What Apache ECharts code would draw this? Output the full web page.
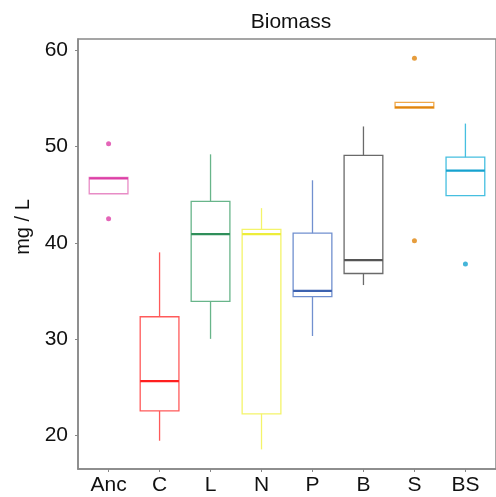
<!DOCTYPE html>
<html lang="en">
<head>
    <meta charset="UTF-8">
    <script src="https://cdn.jsdelivr.net/npm/echarts@6/dist/echarts.min.js"></script>
    <title>Biomass</title>
    <style>
        html, body { margin: 0; padding: 0; background: #fff; }
        #main { width: 496px; height: 497px; }
    </style>
</head>
<body>
    <div id="main"></div>
    <script>
        var categories = ['Anc', 'C', 'L', 'N', 'P', 'B', 'S', 'BS'];
        var lower  = [45.1, 19.4, 30.0, 18.5, 30.3, 35.6, 54.0, 44.9];
        var q1     = [45.1, 22.5, 33.9, 22.2, 34.4, 36.8, 54.0, 44.9];
        var median = [46.7, 25.6, 40.9, 40.9, 35.0, 38.2, 54.1, 47.5];
        var q3     = [46.8, 32.3, 44.3, 41.4, 41.0, 49.1, 54.6, 48.9];
        var upper  = [46.8, 39.0, 49.2, 43.6, 46.5, 52.1, 54.6, 52.4];
        // [category index, value]
        var outliers = [[0, 50.3], [0, 42.5], [6, 59.2], [6, 40.2], [7, 37.8]];
        var yTicks = [20, 30, 40, 50, 60];

        var boxColors    = ['#e88cc6', '#ff5a5a', '#68b58a', '#f4f46a', '#7190cf', '#6a6a6a', '#f0a848', '#46bfe0'];
        var medianColors = ['#dd3fa6', '#ff1f1f', '#2f8f5a', '#eded3a', '#3d62b0', '#555555', '#e0840c', '#16a2cf'];

        var chart = echarts.init(document.getElementById('main'));

        var boxData = categories.map(function (c, i) {
            return [i + 1, lower[i], q1[i], median[i], q3[i], upper[i]];
        });

        function renderBox(params, api) {
            var i = params.dataIndex;
            var x = api.value(0);
            var half = 0.38;
            var pLo = api.coord([x, api.value(1)]);
            var pQ1 = api.coord([x, api.value(2)]);
            var pMed = api.coord([x, api.value(3)]);
            var pQ3 = api.coord([x, api.value(4)]);
            var pHi = api.coord([x, api.value(5)]);
            var xl = api.coord([x - half, 0])[0];
            var xr = api.coord([x + half, 0])[0];
            var boxStyle = { stroke: boxColors[i], lineWidth: 1.3, fill: null };
            var children = [];
            if (pHi[1] < pQ3[1]) {
                children.push({ type: 'line', shape: { x1: pQ3[0], y1: pQ3[1], x2: pHi[0], y2: pHi[1] }, style: boxStyle });
            }
            if (pLo[1] > pQ1[1]) {
                children.push({ type: 'line', shape: { x1: pQ1[0], y1: pQ1[1], x2: pLo[0], y2: pLo[1] }, style: boxStyle });
            }
            children.push({ type: 'rect', shape: { x: xl, y: pQ3[1], width: xr - xl, height: pQ1[1] - pQ3[1] }, style: boxStyle });
            children.push({ type: 'line', shape: { x1: xl, y1: pMed[1], x2: xr, y2: pMed[1] },
                style: { stroke: medianColors[i], lineWidth: 2.2 } });
            return { type: 'group', children: children };
        }

        var option = {
            animation: false,
            title: {
                text: 'Biomass',
                left: 286,
                textAlign: 'center',
                top: 7,
                textStyle: { fontFamily: 'Liberation Sans', fontSize: 21, fontWeight: 'normal', color: '#111' }
            },
            grid: { left: 78, right: -10, top: 39, bottom: 28, show: true, borderColor: '#888', borderWidth: 1.5 },
            xAxis: {
                type: 'value',
                min: 0.4,
                max: 8.6,
                axisLine: { show: true, lineStyle: { color: '#888', width: 1.5 } },
                axisTick: { show: true, customValues: [1, 2, 3, 4, 5, 6, 7, 8], length: 3, lineStyle: { color: '#888' } },
                axisLabel: {
                    customValues: [1, 2, 3, 4, 5, 6, 7, 8],
                    formatter: function (v) { return categories[Math.round(v) - 1]; },
                    fontFamily: 'Liberation Sans', fontSize: 21, color: '#111', margin: 6
                },
                splitLine: { show: false }
            },
            yAxis: {
                type: 'value',
                min: 16.46,
                max: 61.2,
                name: 'mg / L',
                nameLocation: 'middle',
                nameGap: 44,
                nameTextStyle: { fontFamily: 'Liberation Sans', fontSize: 20, color: '#111', padding: [0, 0, 0, 54] },
                axisLine: { show: true, lineStyle: { color: '#888', width: 1.5 } },
                axisTick: { show: true, customValues: yTicks, length: 3, lineStyle: { color: '#888' } },
                axisLabel: { customValues: yTicks, fontFamily: 'Liberation Sans', fontSize: 21, color: '#111', margin: 10 },
                splitLine: { show: false }
            },
            series: [
                {
                    type: 'custom',
                    renderItem: renderBox,
                    data: boxData,
                    encode: { x: 0, y: [1, 2, 3, 4, 5] }
                },
                {
                    type: 'scatter',
                    symbolSize: 5,
                    data: outliers.map(function (o) {
                        return { value: [o[0] + 1, o[1]], itemStyle: { color: medianColors[o[0]] } };
                    })
                }
            ]
        };

        chart.setOption(option);
    </script>
</body>
</html>
